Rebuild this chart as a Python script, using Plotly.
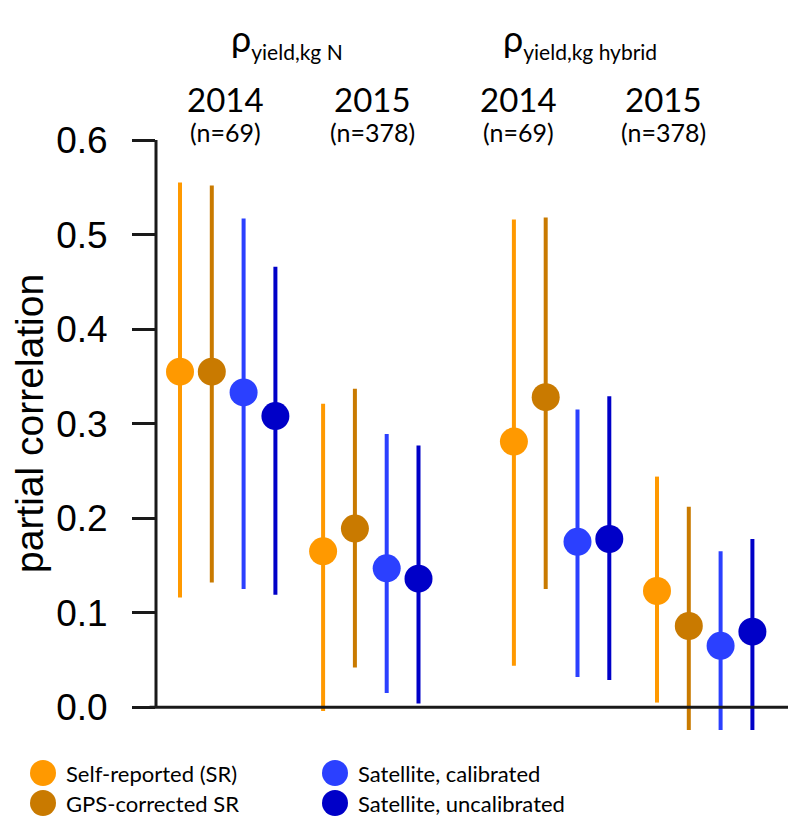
import plotly.graph_objects as go

# --- data ------------------------------------------------------------------
groups = ["kg N 2014", "kg N 2015", "kg hybrid 2014", "kg hybrid 2015"]
series = ["Self-reported (SR)", "GPS-corrected SR",
          "Satellite, calibrated", "Satellite, uncalibrated"]

# point estimate / lower / upper, one list per series, in group order
sr_est = [0.355, 0.165, 0.281, 0.123]
sr_lo = [0.116, -0.004, 0.044, 0.005]
sr_hi = [0.555, 0.321, 0.516, 0.244]

gps_est = [0.355, 0.189, 0.328, 0.086]
gps_lo = [0.132, 0.042, 0.125, -0.024]
gps_hi = [0.552, 0.337, 0.518, 0.212]

satc_est = [0.333, 0.147, 0.175, 0.065]
satc_lo = [0.125, 0.015, 0.032, -0.024]
satc_hi = [0.517, 0.289, 0.315, 0.165]

satu_est = [0.308, 0.136, 0.178, 0.080]
satu_lo = [0.119, 0.004, 0.029, -0.024]
satu_hi = [0.466, 0.277, 0.329, 0.178]

years = ["2014", "2015", "2014", "2015"]
sizes = ["(n=69)", "(n=378)", "(n=69)", "(n=378)"]
y_ticks = [0.0, 0.1, 0.2, 0.3, 0.4, 0.5, 0.6]

COLORS = ["#FF9900", "#C97A00", "#2B40FF", "#0000C8"]
EST = [sr_est, gps_est, satc_est, satu_est]
LO = [sr_lo, gps_lo, satc_lo, satu_lo]
HI = [sr_hi, gps_hi, satc_hi, satu_hi]

# --- layout geometry (page pixels; the html body adds an 8px margin) --------
OFF = 8
W, H = 796 - OFF, 838 - OFF
AX_X, AX_TOP, AX_BOT = 156, 140, 736     # y spine, 0.6 level, plot bottom
L, T = AX_X - OFF, AX_TOP - OFF
B = H - (AX_BOT - OFF)
R = 0
PW, PH = W - L - R, H - T - B
Y_TOP = 0.6
Y_BOT = Y_TOP - PH / 945.5          # 945.5 px per unit of correlation
GROUP_OFFSET = [0, 4.5, 10.5, 15]   # x slots, one per group
SLOT = 31.8                          # px per x slot
X0 = 180                             # page x of the first point


def px(x):
    return (x - OFF - L) / PW


def py(y):
    return (H - B - (y - OFF)) / PH


fig = go.Figure()
for k, name in enumerate(series):
    xs = [GROUP_OFFSET[g] + k for g in range(len(groups))]
    est, lo, hi = EST[k], LO[k], HI[k]
    fig.add_scatter(
        x=xs, y=est, name=name, mode="markers", showlegend=False,
        marker=dict(color=COLORS[k], size=28, line=dict(width=0)),
        error_y=dict(type="data", symmetric=False,
                     array=[h - e for h, e in zip(hi, est)],
                     arrayminus=[e - l for e, l in zip(est, lo)],
                     color=COLORS[k], thickness=4, width=0),
    )

# axis lines: y spine only up to 0.6, x spine at 0
fig.add_shape(type="line", xref="paper", yref="y", x0=0, x1=0, y0=0, y1=0.6,
              line=dict(color="#1a1a1a", width=3))
fig.add_shape(type="line", xref="paper", yref="y", x0=-0.01, x1=1, y0=0, y1=0,
              line=dict(color="#1a1a1a", width=3))

HEAD = "Lato"
TICKF = "Liberation Sans"
ann = []
for name, cx in (("yield,kg N", 287), ("yield,kg hybrid", 580)):
    txt = f"ρ<sub><span style='font-size:21px'>{name}</span></sub>"
    ann.append(dict(text=txt, x=px(cx), y=py(40), font=dict(size=36, family=HEAD)))
for yr, n, cx in zip(years, sizes, [225, 372, 518, 663]):
    ann.append(dict(text=yr, x=px(cx), y=py(99), font=dict(size=33, family=HEAD)))
    ann.append(dict(text=n, x=px(cx), y=py(132), font=dict(size=25, family=HEAD)))
ann.append(dict(text="partial correlation", x=px(29), y=py(424), textangle=-90,
                font=dict(size=39, family=TICKF)))

# legend drawn by hand: two columns of large dots
leg_pos = [(43, 773), (43, 803), (335, 773), (335, 803)]
for k, name in enumerate(series):
    cx, cy = leg_pos[k]
    fig.add_shape(type="circle", xref="paper", yref="paper",
                  xsizemode="pixel", ysizemode="pixel",
                  xanchor=px(cx), yanchor=py(cy), x0=-13, x1=13, y0=-13, y1=13,
                  fillcolor=COLORS[k], line=dict(width=0))
    ann.append(dict(text=name, x=px(cx + 21), y=py(cy), xanchor="left",
                    font=dict(size=22, family=HEAD)))

for a in ann:
    a.update(xref="paper", yref="paper", showarrow=False)
    a.setdefault("xanchor", "center")
    a.setdefault("yanchor", "middle")
    a["font"]["color"] = "black"

x_lo = (AX_X - X0) / SLOT
x_hi = (AX_X + PW - X0) / SLOT
fig.update_layout(
    width=W, height=H, margin=dict(l=L, r=R, t=T, b=B, pad=0),
    paper_bgcolor="white", plot_bgcolor="white", showlegend=False,
    annotations=ann,
    xaxis=dict(range=[x_lo, x_hi], showline=False, showgrid=False,
               zeroline=False, showticklabels=False, ticks=""),
    yaxis=dict(range=[Y_BOT, Y_TOP], tickvals=y_ticks,
               ticktext=[f"{v:.1f}" for v in y_ticks],
               showline=False, showgrid=False, zeroline=False,
               ticks="outside", ticklen=23, tickwidth=3, tickcolor="#1a1a1a",
               ticklabelstandoff=17,
               tickfont=dict(size=37, family=TICKF, color="black")),
)

fig.write_html("out.html")
